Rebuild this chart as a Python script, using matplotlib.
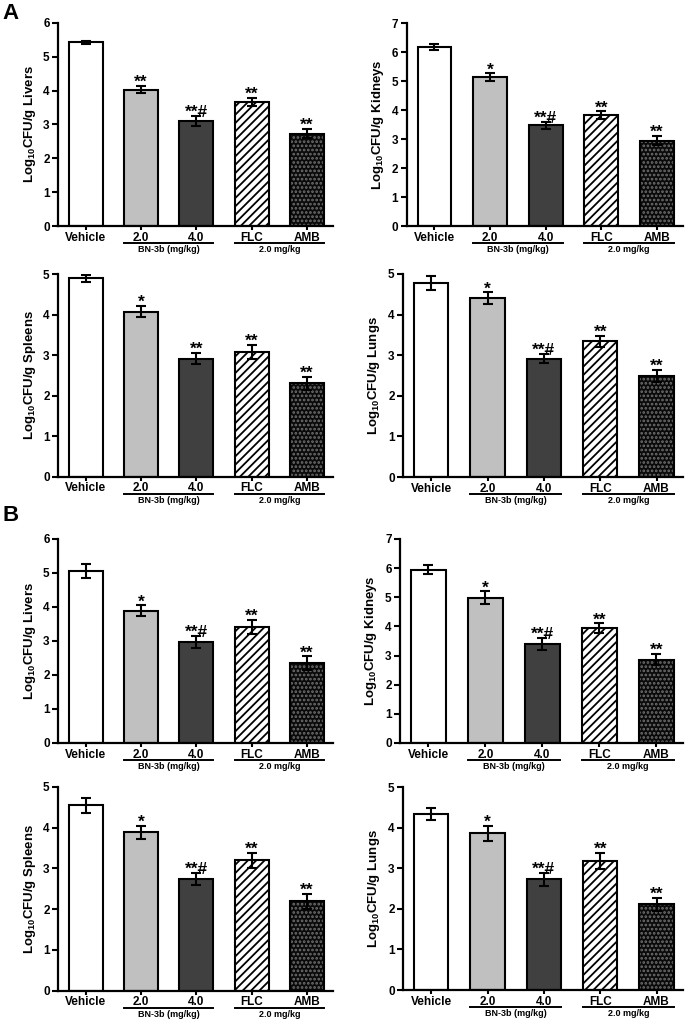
import matplotlib
matplotlib.use('Agg')
import matplotlib.pyplot as plt
import numpy as np

plt.rcParams['font.family'] = ['Liberation Sans', 'DejaVu Sans']
plt.rcParams['font.weight'] = 'bold'
plt.rcParams['mathtext.fontset'] = 'custom'
plt.rcParams['mathtext.rm'] = 'Liberation Sans:bold'
plt.rcParams['mathtext.bf'] = 'Liberation Sans:bold'
plt.rcParams['mathtext.default'] = 'bf'
plt.rcParams['hatch.linewidth'] = 1.3

groups = ['Vehicle', '2.0', '4.0', 'FLC', 'AMB']

# panel A
A_livers = [5.42, 4.03, 3.10, 3.66, 2.73]
A_livers_err = [0.05, 0.10, 0.15, 0.12, 0.13]
A_kidneys = [6.18, 5.14, 3.47, 3.82, 2.94]
A_kidneys_err = [0.11, 0.13, 0.13, 0.14, 0.16]
A_spleens = [4.89, 4.07, 2.91, 3.08, 2.31]
A_spleens_err = [0.08, 0.14, 0.14, 0.17, 0.16]
A_lungs = [4.77, 4.40, 2.91, 3.34, 2.48]
A_lungs_err = [0.17, 0.15, 0.11, 0.13, 0.15]

# panel B
B_livers = [5.06, 3.89, 2.98, 3.41, 2.35]
B_livers_err = [0.20, 0.16, 0.18, 0.21, 0.20]
B_kidneys = [5.95, 4.99, 3.39, 3.93, 2.86]
B_kidneys_err = [0.16, 0.21, 0.21, 0.17, 0.20]
B_spleens = [4.55, 3.89, 2.74, 3.20, 2.19]
B_spleens_err = [0.19, 0.16, 0.14, 0.18, 0.18]
B_lungs = [4.34, 3.86, 2.73, 3.19, 2.11]
B_lungs_err = [0.14, 0.19, 0.16, 0.20, 0.17]

marks_A_livers = ['', '**', '**#', '**', '**']
marks_A_kidneys = ['', '*', '**#', '**', '**']
marks_A_spleens = ['', '*', '**', '**', '**']
marks_A_lungs = ['', '*', '**#', '**', '**']
marks_B = ['', '*', '**#', '**', '**']

organs = ['Livers', 'Kidneys', 'Spleens', 'Lungs']
ymax = [6, 7, 5, 5]

panels = [
    # values, errors, marks, organ index, [left, bottom, width, height]
    (A_livers, A_livers_err, marks_A_livers, 0, [0.0847, 0.7786, 0.4015, 0.1991]),
    (A_kidneys, A_kidneys_err, marks_A_kidneys, 1, [0.5937, 0.7786, 0.4034, 0.1988]),
    (A_spleens, A_spleens_err, marks_A_spleens, 2, [0.0847, 0.5331, 0.4015, 0.1985]),
    (A_lungs, A_lungs_err, marks_A_lungs, 3, [0.5883, 0.5328, 0.4088, 0.1989]),
    (B_livers, B_livers_err, marks_B, 0, [0.0847, 0.2723, 0.4015, 0.1998]),
    (B_kidneys, B_kidneys_err, marks_B, 1, [0.5839, 0.2723, 0.4131, 0.1998]),
    (B_spleens, B_spleens_err, marks_B, 2, [0.0847, 0.0297, 0.4015, 0.1995]),
    (B_lungs, B_lungs_err, marks_B, 3, [0.5883, 0.0303, 0.4088, 0.1987]),
]

fig = plt.figure(figsize=(6.85, 10.21), dpi=100)
x = np.arange(len(groups))
w = 0.61

for vals, errs, marks, oi, rect in panels:
    ax = fig.add_axes(rect)
    # plain bars
    ax.bar(x[0], vals[0], w, color='white', edgecolor='black', linewidth=1.5, zorder=2)
    ax.bar(x[1], vals[1], w, color='#c0c0c0', edgecolor='black', linewidth=1.5, zorder=2)
    ax.bar(x[2], vals[2], w, color='#404040', edgecolor='black', linewidth=1.5, zorder=2)
    ax.bar(x[3], vals[3], w, color='white', edgecolor='black', hatch='////', linewidth=1.5, zorder=2)
    # AMB: black with fine light dots
    ax.bar(x[4], vals[4], w, color='#0a0a0a', edgecolor='#707070', hatch='....', linewidth=0, zorder=2)
    ax.bar(x[4], vals[4], w, fill=False, edgecolor='black', linewidth=1.5, zorder=3)
    ax.errorbar(x, vals, yerr=errs, fmt='none', ecolor='black', elinewidth=1.5,
                capsize=3.5, capthick=1.5, zorder=4)
    for i in range(len(groups)):
        if marks[i]:
            ax.text(x[i], vals[i] + errs[i] - 0.02 * ymax[oi], marks[i], ha='center', va='bottom',
                    fontsize=12.5, fontweight='bold')

    ax.set_xlim(-0.5, 4.47)
    ax.set_ylim(0, ymax[oi])
    ax.set_yticks(range(0, ymax[oi] + 1))
    ax.set_xticks(x)
    ax.set_xticklabels(groups, fontsize=8.5, fontweight='bold')
    for lab in ax.get_yticklabels():
        lab.set_fontsize(8.5)
        lab.set_fontweight('bold')
    ax.tick_params(axis='y', direction='out', length=4, width=1.5, pad=2)
    ax.tick_params(axis='x', direction='out', length=3, width=1.5, pad=1)
    ax.spines['top'].set_visible(False)
    ax.spines['right'].set_visible(False)
    ax.spines['left'].set_linewidth(1.6)
    ax.spines['bottom'].set_linewidth(1.6)
    ax.set_ylabel('Log$_{10}$CFU/g ' + organs[oi], fontsize=9.5, fontweight='bold', labelpad=4)

    # group lines under the tick labels
    tr = ax.get_xaxis_transform()
    ax.plot([x[1] - w / 2, x[2] + w / 2], [-0.084, -0.084], color='black', lw=1.4,
            transform=tr, clip_on=False)
    ax.plot([x[3] - w / 2, x[4] + w / 2], [-0.084, -0.084], color='black', lw=1.4,
            transform=tr, clip_on=False)
    ax.text((x[1] + x[2]) / 2, -0.095, 'BN-3b (mg/kg)', transform=tr, ha='center', va='top',
            fontsize=6.5, fontweight='bold')
    ax.text((x[3] + x[4]) / 2, -0.095, '2.0 mg/kg', transform=tr, ha='center', va='top',
            fontsize=6.5, fontweight='bold')

fig.text(0.003, 0.997, 'A', fontsize=16, fontweight='bold', va='top', ha='left')
fig.text(0.003, 0.505, 'B', fontsize=16, fontweight='bold', va='top', ha='left')

plt.savefig('out.png', dpi=100)
plt.close()
